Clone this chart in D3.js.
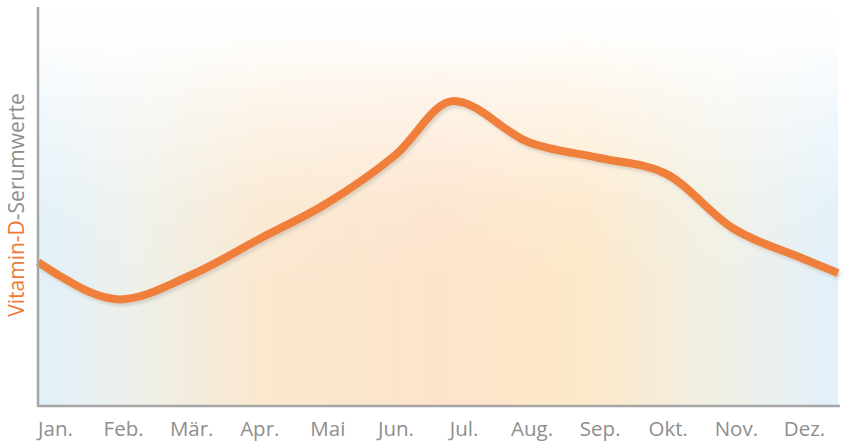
<!DOCTYPE html>
<html><head><meta charset="utf-8">
<script src="https://cdn.jsdelivr.net/npm/d3@7"></script>
<style>
html,body{margin:0;padding:0;background:#fff;}
svg{display:block;}
</style></head>
<body>
<svg id="chart" width="844" height="444"></svg>
<script>
// Month tick labels
const months = ["Jan.","Feb.","Mär.","Apr.","Mai","Jun.","Jul.","Aug.","Sep.","Okt.","Nov.","Dez."];
// Curve vertices: position in months (0 = Jan.) and relative serum level (0–100)
const levelMonth = [-0.25, 0, 0.95, 2, 3, 4, 5, 5.85, 6.95, 8, 8.95, 9.95, 11, 11.5];
const levelValue = [35.75, 33, 26.4, 32.5, 41.5, 50.5, 62.5, 76, 65.75, 61.75, 58, 44.25, 36.5, 33];
const yLabelParts = ["Vitamin-D", "-Serumwerte"];

(function(){
const svg = d3.select("#chart");
const pL = 38, pR = 838, pT = 7, pB = 405;

const x = d3.scaleLinear().domain([-0.25, 11.5]).range([pL, pR]);
const y = d3.scaleLinear().domain([0, 100]).range([pB, 5]);

const defs = svg.append("defs");
const hg = defs.append("linearGradient").attr("id","hg").attr("x1","0").attr("x2","1").attr("y1","0").attr("y2","0");
[[0,"#e1f0fa"],[0.12,"#eef0ea"],[0.28,"#fae8cf"],[0.5,"#fde3cb"],[0.68,"#fde8c9"],[0.86,"#f0f0e6"],[1,"#e1f0fb"]]
  .forEach(([o,c])=>hg.append("stop").attr("offset",o).attr("stop-color",c));
const vg = defs.append("linearGradient").attr("id","vg").attr("x1","0").attr("x2","0").attr("y1","0").attr("y2","1");
[[0,1],[0.08,0.92],[0.25,0.55],[0.5,0.12],[0.7,0],[1,0]]
  .forEach(([o,a])=>vg.append("stop").attr("offset",o).attr("stop-color","#ffffff").attr("stop-opacity",a));
defs.append("filter").attr("id","blur").attr("x","-5%").attr("y","-5%").attr("width","110%").attr("height","110%")
  .append("feGaussianBlur").attr("stdDeviation",1.6);

svg.append("rect").attr("x",pL).attr("y",pT).attr("width",pR-pL).attr("height",pB-pT).attr("fill","url(#hg)");
svg.append("rect").attr("x",pL).attr("y",pT).attr("width",pR-pL).attr("height",pB-pT).attr("fill","url(#vg)");

const pts = levelMonth.map((m,i)=>[m, levelValue[i]]);
const line = d3.line().x(d=>x(d[0])).y(d=>y(d[1])).curve(d3.curveMonotoneX);

svg.append("path").attr("d",line(pts)).attr("fill","none").attr("stroke","#b9b2a6").attr("stroke-opacity",0.45)
  .attr("stroke-width",8).attr("transform","translate(2,3)").attr("filter","url(#blur)");
svg.append("path").attr("d",line(pts)).attr("fill","none").attr("stroke","#ef7f3b")
  .attr("stroke-width",8).attr("stroke-linejoin","round").attr("stroke-linecap","butt");

// axes
const xAxis = d3.axisBottom(x).tickValues(d3.range(months.length)).tickFormat(i=>months[i]).tickSize(0).tickPadding(15);
const gx = svg.append("g").attr("transform",`translate(0,${pB+1})`).call(xAxis);
gx.select(".domain").remove();
gx.selectAll("text").attr("font-family","'Open Sans', sans-serif").attr("font-size",20.5).attr("fill","#8e8e8e");
svg.append("line").attr("x1",pL-1).attr("x2",pR+2).attr("y1",pB+1).attr("y2",pB+1).attr("stroke","#a6a6a6").attr("stroke-width",2.5);
svg.append("line").attr("x1",pL).attr("x2",pL).attr("y1",pT).attr("y2",pB+2).attr("stroke","#a6a6a6").attr("stroke-width",2.5);

const yl = svg.append("text").attr("transform",`translate(24,${(pT+pB)/2 - 1}) rotate(-90)`)
  .attr("text-anchor","middle").attr("font-family","'Open Sans', sans-serif").attr("font-size",21);
yl.append("tspan").text(yLabelParts[0]).attr("fill","#ec7a36");
yl.append("tspan").text(yLabelParts[1]).attr("fill","#8e8e8e");
})();
</script>
</body></html>
